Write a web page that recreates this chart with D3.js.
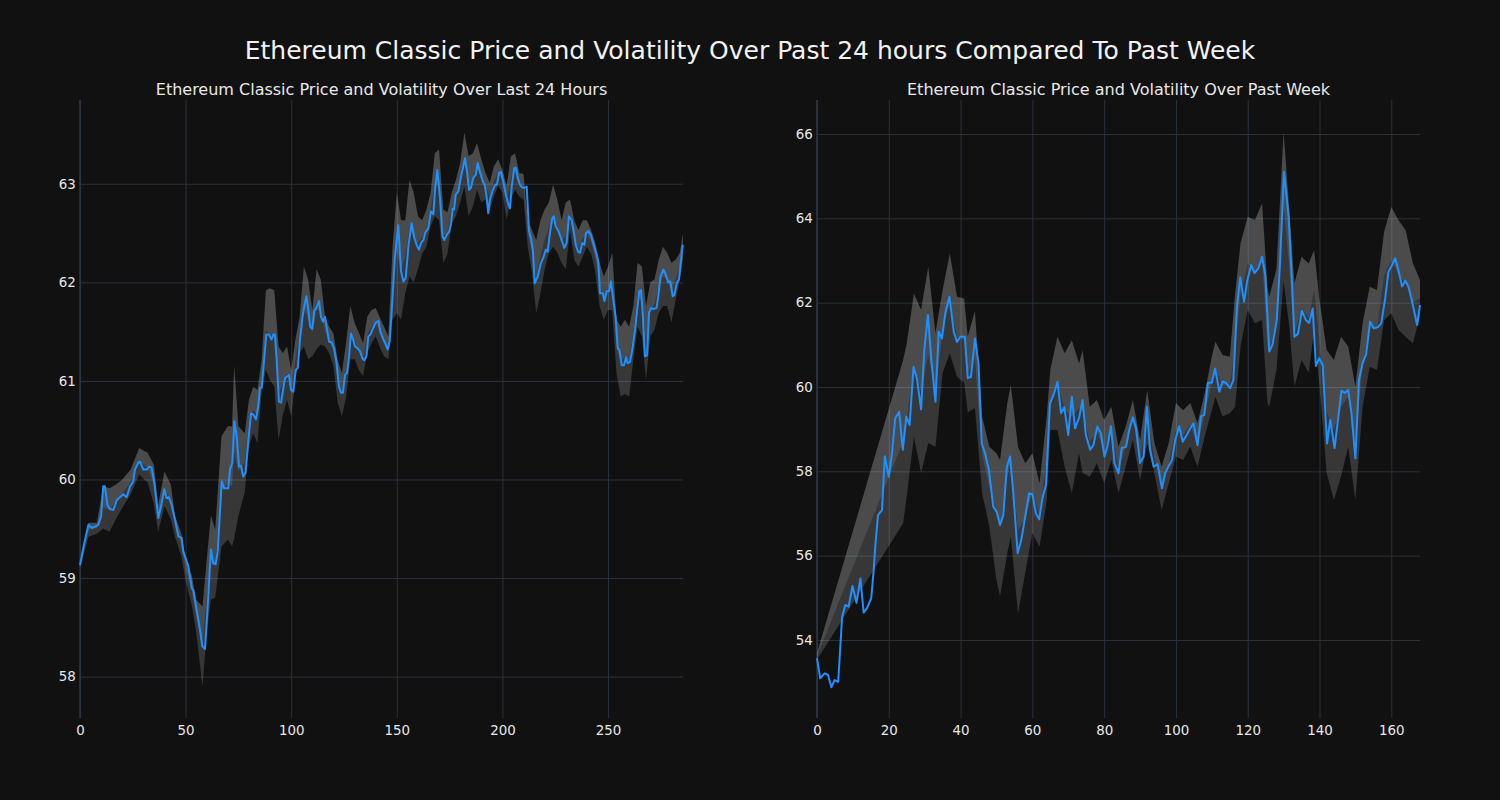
<!DOCTYPE html>
<html>
<head>
<meta charset="utf-8">
<script src="https://cdn.jsdelivr.net/npm/d3@7"></script>
<style>
  html, body { margin: 0; padding: 0; background: #111111; }
  svg { display: block; font-family: "DejaVu Sans", sans-serif; }
</style>
</head>
<body>
<svg id="chart" width="1500" height="800"></svg>
<script>
// ---------------- DATA ----------------
const mainTitle = "Ethereum Classic Price and Volatility Over Past 24 hours Compared To Past Week";
const dayTitle = "Ethereum Classic Price and Volatility Over Last 24 Hours";
const weekTitle = "Ethereum Classic Price and Volatility Over Past Week";

// Last 24 hours (5-minute steps): x index and price
const dayX = [0,2,4,5.5,7,8.7,10,11,11.8,13,14.2,15.8,17.4,18.9,20.5,22.1,23.7,25.2,26,27.6,28.4,30,31.6,32.7,33.9,35.2,37.1,38.4,39.9,41,42.1,43.4,45,46.6,48.1,48.9,51.3,52.9,53.7,55.2,56.8,57.9,59.2,60.7,62,63.1,64.2,65.2,67.1,68.3,70.2,71,72.1,73.1,74.2,75.3,76.2,77.3,78.4,79.7,81,82,83.3,84.4,85.2,86,87.3,88.2,89.5,90.7,91.5,92.3,93.1,94.2,95.2,96.3,97.1,99,99.9,101,102.1,103.1,104.2,105.3,106.2,107.2,108.1,109,110,110.9,111.9,113.2,114.1,115.1,116,117,117.9,119.2,120.4,121.5,122.6,123.6,124.5,125.5,126.4,127.4,128.3,129.3,130.2,131.5,132.6,133.7,134.6,135.6,136.5,137.5,138.9,140,141.3,142.2,143.5,144.7,145.7,146.6,147.6,149.1,150.7,152,153.1,154.2,155.5,157,158.3,159.4,160.5,161.5,162.6,163.4,164.9,166.2,167.3,168.1,169.2,170.5,171.6,172.5,173.6,174.9,175.7,176.5,177.1,177.9,179.1,180.4,181.5,182.3,183.3,184.2,185.1,186.2,187.4,188.3,189.4,190.5,191.8,192.6,193.3,194.1,195.2,196.5,197.4,198.4,199.3,200.4,201.6,202.8,203.6,204.4,205.6,206.4,207.2,208.3,209.4,210.6,211.5,212.6,213.5,214.4,215.3,216.7,218.3,219.4,220.5,221.4,222.5,223.6,224.3,225.2,226.5,227.7,229.3,230.4,231.5,232.8,234,234.7,235.9,236.7,237.8,238.8,239.6,240.7,241.9,243,244.2,245.4,246.2,247.5,248.3,249.4,250.5,251.4,252.5,253.6,254.6,255.3,256.5,257.6,258.5,259.3,260.4,261.5,262.8,264,264.8,265.6,266.4,267.5,268.5,269.4,270.4,271.4,273,273.8,274.9,276.2,277.3,278.5,279.5,280.6,281.4,282.5,283.6,285.2,285.5];
const dayPrice = [59.13,59.35,59.54,59.51,59.52,59.54,59.63,59.93,59.93,59.74,59.70,59.69,59.79,59.82,59.85,59.82,59.93,59.98,60.10,60.17,60.18,60.10,60.10,60.13,60.12,59.96,59.61,59.73,59.90,59.81,59.82,59.74,59.59,59.42,59.41,59.27,59.12,58.90,58.87,58.68,58.48,58.31,58.28,58.81,59.29,59.15,59.14,59.27,59.98,59.91,59.91,60.10,60.17,60.59,60.44,60.13,60.14,60.03,60.07,60.40,60.67,60.66,60.61,60.74,60.93,60.93,61.25,61.47,61.47,61.42,61.47,61.47,61.22,60.79,60.78,60.93,61.03,61.06,60.91,60.89,61.11,61.13,61.43,61.64,61.76,61.86,61.72,61.55,61.53,61.71,61.74,61.81,61.65,61.60,61.65,61.52,61.40,61.39,61.32,61.18,60.94,60.88,60.88,61.06,61.08,61.25,61.48,61.42,61.35,61.33,61.30,61.23,61.21,61.25,61.45,61.47,61.54,61.59,61.61,61.50,61.43,61.37,61.32,61.40,61.72,62.26,62.58,62.11,62.01,62.04,62.37,62.60,62.45,62.38,62.33,62.40,62.43,62.50,62.55,62.72,62.69,62.94,63.14,62.84,62.47,62.43,62.48,62.52,62.60,62.75,62.74,62.89,62.92,63.07,63.18,63.26,63.11,62.94,62.96,63.06,63.09,63.21,63.12,63.04,62.97,62.85,62.70,62.84,62.92,62.99,62.99,63.11,63.12,63.02,62.89,62.79,62.75,62.97,63.16,63.16,63.06,62.99,62.96,62.96,62.97,62.52,62.45,62.33,61.99,62.06,62.20,62.25,62.33,62.31,62.50,62.65,62.67,62.57,62.52,62.45,62.35,62.40,62.67,62.63,62.48,62.38,62.31,62.30,62.40,62.38,62.50,62.52,62.48,62.40,62.31,62.21,61.89,61.89,61.81,61.91,61.91,62.01,61.82,61.65,61.33,61.32,61.16,61.16,61.24,61.18,61.19,61.32,61.52,61.76,61.91,61.92,61.69,61.25,61.26,61.69,61.74,61.73,61.74,61.86,62.06,62.13,62.08,62.00,62.01,61.86,61.87,61.99,62.03,62.35,62.38];

// Last 24 hours volatility band
const dayBandX = [0,4,8,11,14,17,20,24,28,32,35,37,40,43,45,48,50,53,55,58,60,62,64,67,70,72,73,75,78,80,82,84,86,88,90,92,94,96,98,100,102,104,106,108,110,112,114,116,118,120,122,124,126,128,130,132,134,136,138,140,142,144,146,148,150,152,154,156,158,160,162,164,166,168,170,172,174,176,178,180,182,184,186,188,190,192,194,196,198,200,202,204,206,208,210,212,214,216,218,220,222,224,226,228,230,232,234,236,238,240,242,244,246,248,250,252,254,256,258,260,262,264,266,268,270,272,274,276,278,280,282,284,285.5];
const dayLower = [59.10,59.42,59.45,59.50,59.47,59.60,59.71,59.85,60.05,59.97,59.75,59.47,59.73,59.60,59.42,59.22,58.97,58.72,58.45,57.90,58.45,58.78,58.80,59.32,59.39,59.32,59.40,59.63,59.87,60.34,60.47,60.37,60.88,61.11,61.01,60.94,60.40,60.65,60.81,60.64,61.01,61.28,61.35,61.22,61.25,61.32,61.37,61.35,61.28,61.15,60.78,60.64,60.84,61.22,61.22,61.11,61.05,61.28,61.38,61.45,61.34,61.25,61.22,61.62,61.69,61.62,61.89,62.06,62.00,62.13,62.29,62.36,62.57,62.67,62.63,62.20,62.29,62.60,62.67,62.81,62.97,62.67,62.77,62.94,62.81,62.84,62.74,62.87,62.98,62.91,62.64,62.84,62.94,62.87,62.84,62.36,62.10,61.69,61.89,62.13,62.30,62.36,62.30,62.20,62.13,62.53,62.23,62.16,62.26,62.36,62.29,62.10,61.76,61.62,61.72,61.72,61.08,60.84,60.87,60.84,61.22,61.55,61.45,61.01,61.45,61.52,61.69,61.76,61.76,61.59,61.82,62.03,62.23];
const dayUpper = [59.16,59.56,59.56,59.93,59.91,59.95,60.00,60.10,60.32,60.27,60.15,59.74,60.08,59.95,59.63,59.45,59.20,59.02,58.78,58.71,59.19,59.64,59.49,60.44,60.54,60.54,61.16,60.54,60.47,60.81,60.94,60.91,61.21,61.92,61.94,61.92,61.35,61.28,61.35,61.11,61.42,61.65,62.16,62.03,61.72,62.13,62.03,61.65,61.55,61.48,61.21,61.08,61.39,61.76,61.59,61.49,61.38,61.65,61.72,61.74,61.64,61.55,61.45,62.36,62.91,62.63,62.63,63.04,62.91,62.67,62.63,62.74,62.91,63.31,63.35,62.74,62.71,62.91,63.04,63.21,63.52,63.28,63.31,63.41,63.25,63.11,63.01,63.18,63.25,63.14,62.98,63.28,63.31,63.11,63.10,62.63,62.53,62.43,62.63,62.74,62.81,62.99,62.84,62.63,62.81,62.84,62.63,62.53,62.63,62.63,62.53,62.40,62.20,62.06,62.16,62.30,61.62,61.55,61.62,61.55,61.76,62.20,62.16,61.76,62.00,62.03,62.23,62.36,62.30,62.20,62.23,62.30,62.50];

// Past week (hourly): x index and price
const weekX = [0,0.9,2.1,3.1,4,4.9,5.9,7,7.9,8.8,9.9,11,12.1,13,13.9,15.1,15.8,16.3,17,18.1,18.9,20,20.9,21.8,22.9,23.9,24.9,25.8,26.9,27.9,29,29.9,30.9,31.9,33,33.9,34.8,35.8,36.9,38.1,39,39.9,41.2,42,42.9,44,45,45.9,46.8,47.9,49.1,50.1,51,51.9,52.9,53.8,54.7,55.9,56.9,58,59.1,60,61,61.9,62.8,63.8,64.9,65.9,67,68,68.9,70,71,71.9,73,74,74.9,76.1,77,78.1,79.1,80.1,81,81.9,82.9,84,84.9,86.1,87,88,88.9,90,91,91.9,92.8,93.8,94.9,96.1,97,97.9,98.9,99.8,100.9,101.9,103,104,104.9,106,107,107.9,108.9,110,110.9,112.1,113,114,115.1,116,117,117.9,119,119.9,121,121.9,123,124,124.9,126,126.9,128.1,129,130.1,131.4,132.3,133,134,135.1,136.2,137.1,138.1,139,139.9,140.9,142.1,143,144.2,145.1,146.1,147.1,148,148.9,150,151,152,153,154.1,155.1,156.3,157.2,158.3,159.2,160.2,161.1,162,163,163.9,164.8,165.8,167.2,168];
const weekPrice = [53.57,53.09,53.21,53.17,52.88,53.05,53.01,54.55,54.83,54.79,55.28,54.88,55.46,54.65,54.75,54.99,55.66,56.29,56.96,57.08,58.36,57.87,58.43,59.26,59.41,58.51,59.30,59.10,60.48,60.17,59.47,60.88,61.71,60.60,59.65,61.31,61.15,61.78,62.14,61.31,61.07,61.19,61.19,60.21,60.24,61.15,60.56,58.66,58.43,58.03,57.16,57.04,56.73,56.96,58.11,58.35,57.48,56.06,56.37,56.92,57.48,57.46,57.00,56.86,57.36,57.68,59.61,59.81,60.12,59.38,59.52,58.86,59.77,59.02,59.26,59.69,58.86,58.51,58.62,59.06,58.90,58.35,58.62,59.07,58.19,57.95,58.55,58.58,58.98,59.28,59.02,58.20,58.35,59.53,58.51,58.11,58.17,57.60,57.95,58.11,58.27,58.74,59.07,58.70,58.86,59.02,59.14,58.62,59.31,59.34,60.10,60.10,60.44,59.89,60.13,60.09,59.97,60.17,61.90,62.60,62.02,62.54,62.89,62.70,62.82,63.09,62.65,60.84,61.00,61.59,62.93,65.10,64.04,62.54,61.19,61.26,61.81,61.59,61.52,61.86,60.50,60.68,60.52,58.66,59.22,58.55,59.18,59.91,59.86,59.93,59.38,58.31,60.17,60.56,60.78,61.55,61.39,61.42,61.51,62.10,62.73,62.89,63.05,62.77,62.38,62.52,62.38,62.02,61.47,61.94];

// Past week volatility band
const weekBandX = [0,24,25,27,29,31,33,35,37,39,41,42,44,46,48,50,51,53,54,56,58,60,62,64,65,67,69,71,73,74,76,78,80,82,84,86,88,90,92,94,96,98,100,102,104,106,108,110,111,113,115,116.5,118,120,122,124,125.5,126,128,130,131.5,133,135,137,138.5,140,142,144,146,148,150,152,154,156,158,160,162,164,166,168];
const weekLower = [53.53,56.77,57.40,58.82,57.96,58.67,58.58,60.33,60.80,60.24,60.10,59.40,59.50,57.48,56.69,55.42,55.03,56.06,56.45,54.63,55.58,56.54,56.21,57.30,58.98,58.98,58.11,57.48,58.43,57.96,57.87,58.19,57.72,58.27,57.48,58.11,58.74,57.79,58.66,57.96,57.08,57.72,58.35,58.27,58.59,58.11,58.82,59.45,59.77,59.30,59.38,59.53,60.96,61.83,61.51,61.59,59.62,59.53,60.40,62.50,61.50,60.01,60.64,60.33,61.35,60.01,57.96,57.32,57.87,58.58,57.32,59.53,60.48,60.40,61.59,61.75,61.35,61.19,61.04,61.67];
const weekUpper = [53.69,60.64,61.04,62.22,61.83,62.85,61.28,62.30,63.17,62.14,62.10,61.20,61.80,59.30,58.58,58.43,58.27,59.61,60.05,58.58,58.19,58.43,57.72,59.30,60.40,61.19,60.80,61.11,60.56,60.88,59.53,59.69,59.22,59.53,58.58,59.06,59.69,58.74,59.93,58.67,58.11,58.67,59.62,59.45,59.62,59.14,59.85,60.72,61.07,60.76,60.72,62.22,63.41,64.04,63.96,64.36,62.38,62.14,62.80,66.05,64.30,62.46,63.09,62.93,63.25,62.06,60.88,60.64,61.19,60.96,60.01,61.51,62.38,62.30,63.69,64.27,63.96,63.72,62.94,62.54];

// Tick values
const dayXTicks = [0, 50, 100, 150, 200, 250];
const dayYTicks = [58, 59, 60, 61, 62, 63];
const weekXTicks = [0, 20, 40, 60, 80, 100, 120, 140, 160];
const weekYTicks = [54, 56, 58, 60, 62, 64, 66];

// ---------------- DRAW ----------------
const svg = d3.select("#chart");
svg.append("rect").attr("width", 1500).attr("height", 800).attr("fill", "#111111");

svg.append("text")
  .attr("x", 750).attr("y", 59)
  .attr("text-anchor", "middle")
  .attr("fill", "#f2f2f2")
  .attr("font-size", 25)
  .text(mainTitle);

const gridColor = "#2a323d";
const textColor = "#e8e8e8";

function panel(opts) {
  const { left, right, top, bottom, xDomain, yDomain, xTicks, yTicks, title,
          xs, ys, bx, blo, bhi } = opts;
  const x = d3.scaleLinear().domain(xDomain).range([left, right]);
  const y = d3.scaleLinear().domain(yDomain).range([bottom, top]);
  const g = svg.append("g");

  const xAxis = d3.axisBottom(x).tickValues(xTicks).tickSize(-(bottom - top)).tickPadding(5).tickFormat(d3.format("d"));
  const yAxis = d3.axisLeft(y).tickValues(yTicks).tickSize(-(right - left)).tickPadding(3).tickFormat(d3.format("d"));

  const gx = g.append("g").attr("transform", `translate(0,${bottom})`).call(xAxis);
  const gy = g.append("g").attr("transform", `translate(${left},0)`).call(yAxis);
  [gx, gy].forEach(a => {
    a.select(".domain").remove();
    a.selectAll(".tick line").attr("stroke", gridColor).attr("stroke-width", 1);
    a.selectAll(".tick text").attr("fill", textColor).attr("font-size", 13.4)
      .attr("font-family", "DejaVu Sans, sans-serif");
  });
  gx.selectAll(".tick text").attr("dy", "0.92em");
  gy.selectAll(".tick text").attr("dx", "-0.1em");

  // left spine
  g.append("line").attr("x1", left).attr("x2", left).attr("y1", top).attr("y2", bottom)
    .attr("stroke", "#2c3542").attr("stroke-width", 1.6);

  // volatility band (full band, plus a lighter upper half)
  const idx = d3.range(bx.length);
  const band = d3.area()
    .x(i => x(bx[i])).y0(i => y(blo[i])).y1(i => y(bhi[i]));
  g.append("path").datum(idx).attr("d", band).attr("fill", "rgba(255,255,255,0.16)");
  const bandTop = d3.area()
    .x(i => x(bx[i])).y0(i => y((blo[i] + bhi[i]) / 2)).y1(i => y(bhi[i]));
  g.append("path").datum(idx).attr("d", bandTop).attr("fill", "rgba(255,255,255,0.10)");

  // price line
  const li = d3.range(xs.length);
  const line = d3.line().x(i => x(xs[i])).y(i => y(ys[i]));
  g.append("path").datum(li).attr("d", line)
    .attr("fill", "none").attr("stroke", "#1e90ff").attr("stroke-width", 2)
    .attr("stroke-linejoin", "round");

  // subplot title
  g.append("text").attr("x", (left + right) / 2).attr("y", 95)
    .attr("text-anchor", "middle").attr("fill", textColor).attr("font-size", 16)
    .text(title);
}

panel({
  left: 80, right: 683, top: 100, bottom: 718,
  xDomain: [0, 285.5], yDomain: [57.58, 63.85],
  xTicks: dayXTicks, yTicks: dayYTicks, title: dayTitle,
  xs: dayX, ys: dayPrice, bx: dayBandX, blo: dayLower, bhi: dayUpper
});

panel({
  left: 817, right: 1420, top: 100, bottom: 718,
  xDomain: [0, 168], yDomain: [52.15, 66.806],
  xTicks: weekXTicks, yTicks: weekYTicks, title: weekTitle,
  xs: weekX, ys: weekPrice, bx: weekBandX, blo: weekLower, bhi: weekUpper
});
</script>
</body>
</html>
